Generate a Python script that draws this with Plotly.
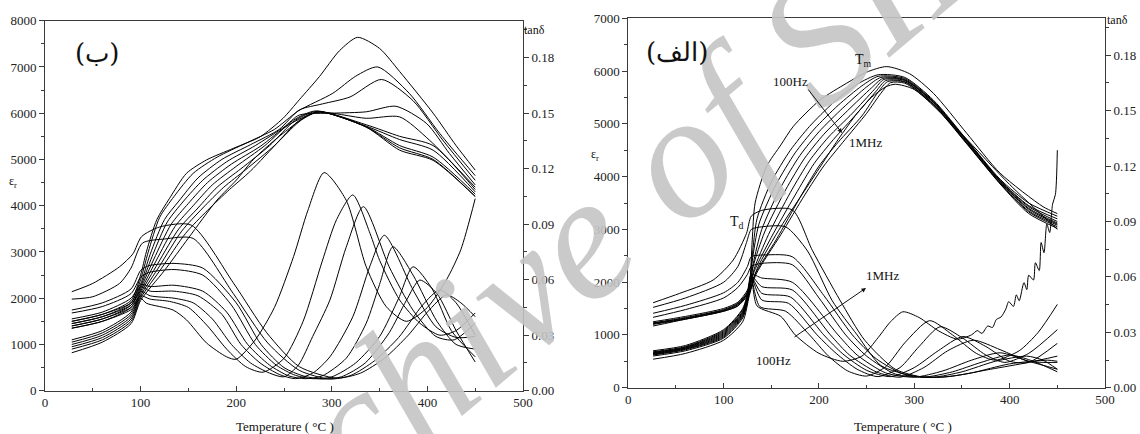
import plotly.graph_objects as go

# ---------------- LEFT PANEL  (ب) ----------------
# dielectric constant curves (εr), temperature in °C
L_EPS_T = [
    [28, 60, 90, 100, 106, 117, 130, 148, 169, 197, 225, 249, 266, 287, 308, 327, 350, 371, 406, 430, 450],
    [28, 60, 90, 100, 108, 120, 135, 155, 180, 210, 240, 265, 301, 325, 348, 381, 413, 450],
    [28, 60, 90, 100, 110, 125, 140, 160, 185, 215, 245, 266, 290, 319, 352, 385, 416, 450],
    [28, 60, 90, 100, 112, 128, 145, 165, 190, 220, 250, 266, 301, 336, 367, 399, 423, 450],
    [28, 60, 90, 100, 114, 132, 150, 170, 195, 225, 255, 285, 336, 371, 402, 450],
    [28, 60, 90, 100, 116, 136, 155, 175, 200, 230, 260, 283, 336, 371, 406, 450],
    [28, 60, 90, 100, 118, 140, 160, 180, 205, 235, 262, 285, 336, 371, 406, 450],
    [28, 60, 90, 100, 120, 143, 165, 187, 210, 240, 265, 286, 336, 371, 406, 450],
    [28, 60, 90, 100, 122, 147, 170, 193, 215, 245, 268, 287, 336, 371, 406, 450],
    [28, 60, 90, 100, 125, 150, 180, 200, 218, 245, 275, 288, 336, 371, 406, 450],
]
L_EPS_V = [
    [1500, 1650, 1950, 2500, 3000, 3700, 4150, 4700, 4990, 5240, 5490, 5890, 6290, 6790, 7350, 7640, 7400, 6900, 6000, 5300, 4770],
    [1450, 1600, 1900, 2400, 3000, 3750, 4200, 4700, 5050, 5350, 5650, 6050, 6430, 6800, 7000, 6430, 5560, 4650],
    [1400, 1550, 1850, 2300, 2950, 3700, 4100, 4600, 5000, 5320, 5650, 6070, 6200, 6350, 6730, 6270, 5420, 4550],
    [1350, 1500, 1800, 2250, 2900, 3650, 4100, 4550, 4950, 5300, 5700, 5960, 6000, 6030, 6150, 5780, 5130, 4450],
    [1100, 1300, 1700, 2200, 2850, 3600, 4050, 4500, 4900, 5280, 5750, 6020, 5890, 5920, 5420, 4400],
    [1050, 1250, 1650, 2150, 2800, 3550, 4000, 4450, 4850, 5300, 5850, 6050, 5750, 5500, 5300, 4350],
    [1000, 1200, 1600, 2100, 2750, 3500, 3950, 4400, 4800, 5300, 5850, 6040, 5720, 5430, 5200, 4300],
    [950, 1150, 1550, 2050, 2700, 3450, 3950, 4400, 4780, 5300, 5830, 6030, 5710, 5300, 5050, 4250],
    [900, 1100, 1500, 2000, 2650, 3400, 3900, 4350, 4750, 5400, 5850, 6030, 5700, 5250, 5000, 4200],
    [820, 1050, 1450, 1950, 2600, 3300, 4123, 4550, 5000, 5500, 5950, 6030, 5700, 5200, 4980, 4200],
]
# loss tangent curves, values are tanδ × 10^-3
L_TAN_T = [
    [28, 60, 90, 100, 106, 134, 148, 169, 190, 200, 220, 240, 260, 275, 292, 315, 336, 357, 378, 400, 420, 435, 450],
    [28, 60, 90, 100, 110, 130, 150, 170, 190, 210, 228, 250, 270, 290, 305, 322, 340, 350, 371, 392, 413, 430, 450],
    [28, 60, 90, 100, 110, 135, 155, 175, 195, 215, 235, 250, 265, 280, 298, 315, 333, 360, 385, 409, 428, 450],
    [28, 60, 90, 100, 110, 135, 160, 185, 205, 225, 245, 262, 280, 298, 322, 340, 355, 385, 409, 430, 450],
    [28, 60, 90, 100, 110, 135, 165, 190, 212, 235, 255, 272, 290, 315, 336, 350, 364, 385, 410, 430, 450],
    [28, 60, 90, 100, 108, 135, 165, 195, 220, 242, 262, 280, 300, 325, 350, 370, 385, 405, 425, 450],
    [28, 60, 90, 100, 108, 135, 165, 200, 226, 250, 270, 290, 310, 335, 360, 378, 392, 410, 430, 450],
    [28, 50, 78, 90, 102, 125, 155, 197, 233, 266, 298, 320, 345, 370, 395, 413, 430, 450],
    [28, 50, 78, 92, 101, 120, 153, 197, 232, 266, 305, 330, 355, 380, 400, 420, 435, 450],
]
L_TAN_V = [
    [33.8, 37.5, 43.8, 50.0, 47.3, 43.6, 38.3, 25.8, 18.3, 17.0, 27.5, 45.0, 72.5, 97.5, 117.9, 103.0, 67.0, 45.4, 37.5, 45.0, 60.0, 76.3, 103.8],
    [35.0, 38.8, 45.0, 51.3, 49.5, 48.3, 45.0, 35.0, 22.5, 13.0, 10.0, 17.5, 37.5, 70.0, 92.5, 105.8, 85.0, 70.5, 49.0, 36.5, 30.0, 32.5, 42.0],
    [36.3, 40.0, 46.3, 53.8, 51.3, 50.0, 47.5, 38.8, 25.0, 15.0, 9.5, 7.5, 13.8, 29.3, 49.0, 77.5, 99.5, 67.0, 43.5, 29.3, 27.5, 36.5],
    [37.5, 41.3, 47.5, 56.3, 53.8, 53.8, 51.3, 41.3, 25.0, 15.0, 8.8, 6.5, 9.5, 18.3, 40.0, 67.5, 84.0, 54.5, 34.5, 28.8, 29.3],
    [38.8, 42.5, 50.0, 57.5, 56.3, 57.0, 53.8, 42.5, 25.0, 13.8, 8.0, 6.5, 8.0, 17.5, 36.5, 57.5, 77.8, 62.5, 37.5, 25.0, 22.5],
    [42.0, 45.5, 52.5, 61.3, 63.8, 65.5, 62.5, 46.3, 25.0, 13.8, 8.3, 6.5, 7.5, 15.0, 29.3, 50.0, 67.0, 55.0, 32.5, 18.3],
    [43.6, 47.5, 55.0, 65.0, 67.5, 68.8, 66.3, 47.5, 25.0, 12.5, 8.0, 6.3, 7.5, 15.0, 31.3, 48.8, 59.8, 52.5, 32.5, 15.5],
    [49.5, 50.8, 58.0, 66.3, 79.8, 82.0, 82.3, 52.5, 25.8, 11.0, 6.3, 8.3, 16.3, 28.8, 46.3, 54.5, 47.5, 30.0],
    [53.5, 58.0, 67.0, 74.0, 83.3, 88.5, 89.5, 58.3, 31.3, 13.0, 6.8, 9.5, 17.5, 30.0, 42.5, 51.8, 47.5, 40.0],
]

# ---------------- RIGHT PANEL  (الف) ----------------
R_EPS_T = [
    [26, 60, 100, 120, 127, 130, 133, 145, 160, 173, 201, 229, 250, 271, 295, 320, 355, 390, 435, 450],
    [26, 60, 100, 120, 127, 130, 135, 150, 170, 190, 215, 240, 262, 290, 320, 355, 390, 420, 450],
    [26, 60, 100, 120, 127, 130, 137, 155, 175, 195, 220, 245, 262, 290, 320, 355, 390, 420, 450],
    [26, 60, 100, 120, 127, 131, 140, 160, 180, 200, 225, 250, 265, 290, 320, 355, 390, 420, 450],
    [26, 60, 100, 120, 127, 131, 143, 165, 185, 205, 230, 255, 267, 290, 320, 355, 390, 420, 450],
    [26, 60, 100, 120, 127, 132, 147, 170, 190, 210, 235, 258, 268, 290, 320, 355, 390, 420, 450],
    [26, 60, 100, 120, 127, 132, 150, 175, 195, 215, 240, 260, 270, 290, 320, 355, 390, 420, 450],
    [26, 60, 100, 120, 127, 133, 155, 180, 200, 220, 245, 262, 272, 290, 320, 355, 390, 420, 450],
    [26, 60, 100, 120, 127, 134, 160, 185, 205, 225, 250, 265, 275, 290, 320, 355, 390, 420, 450],
    [26, 60, 100, 120, 127, 135, 160, 180, 200, 220, 240, 255, 270, 280, 300, 350, 400, 450],
]
R_EPS_V = [
    [700, 800, 1100, 1500, 1950, 2800, 3500, 4190, 4600, 4950, 5450, 5770, 5980, 6085, 5950, 5580, 4820, 4065, 3430, 3300],
    [680, 780, 1080, 1480, 1950, 2500, 3200, 3900, 4500, 4950, 5400, 5750, 5930, 5880, 5450, 4700, 3950, 3500, 3250],
    [670, 770, 1060, 1450, 1900, 2400, 3100, 3850, 4450, 4900, 5350, 5720, 5900, 5860, 5430, 4690, 3930, 3450, 3200],
    [660, 760, 1040, 1430, 1880, 2350, 3000, 3800, 4400, 4850, 5300, 5700, 5880, 5840, 5420, 4680, 3920, 3430, 3150],
    [650, 750, 1020, 1410, 1860, 2300, 2950, 3750, 4350, 4800, 5250, 5680, 5860, 5830, 5410, 4670, 3910, 3400, 3120],
    [640, 740, 1000, 1390, 1850, 2250, 2900, 3700, 4300, 4750, 5200, 5650, 5840, 5820, 5400, 4650, 3900, 3380, 3100],
    [630, 730, 980, 1370, 1830, 2200, 2850, 3650, 4250, 4700, 5200, 5620, 5820, 5800, 5380, 4640, 3880, 3350, 3080],
    [620, 720, 960, 1350, 1800, 2150, 2800, 3600, 4200, 4650, 5150, 5600, 5800, 5790, 5370, 4630, 3870, 3330, 3050],
    [600, 700, 940, 1320, 1780, 2150, 2900, 3650, 4200, 4650, 5200, 5580, 5780, 5770, 5360, 4620, 3860, 3300, 3020],
    [540, 650, 900, 1250, 1750, 2250, 3050, 3600, 4150, 4700, 5200, 5500, 5700, 5750, 5650, 4800, 3850, 3000],
]
R_TAN_T = [
    [26, 60, 100, 115, 125, 129, 135, 160, 175, 200, 225, 245, 262, 275, 288, 305, 325, 345, 360, 366, 371, 377,
     382, 386, 391, 396, 399, 404, 407, 410, 415, 418, 420, 425, 427, 431, 433, 436, 439, 442, 445, 448, 450],
    [26, 60, 100, 115, 125, 129, 138, 165, 190, 210, 230, 250, 270, 290, 316, 340, 365, 385, 410, 430, 450],
    [26, 60, 100, 115, 125, 129, 140, 168, 198, 218, 240, 262, 285, 305, 327, 350, 375, 395, 420, 450],
    [26, 60, 100, 115, 125, 129, 140, 170, 205, 225, 250, 275, 300, 325, 351, 375, 400, 420, 450],
    [26, 60, 100, 115, 125, 129, 140, 172, 212, 232, 260, 285, 310, 335, 362, 390, 420, 450],
    [26, 60, 100, 115, 125, 129, 140, 172, 220, 240, 270, 300, 330, 360, 390, 420, 450],
    [26, 60, 100, 115, 125, 129, 140, 172, 200, 228, 250, 280, 310, 340, 370, 400, 425, 450],
    [26, 60, 100, 115, 125, 129, 145, 172, 205, 235, 260, 290, 320, 350, 385, 418, 435, 450],
    [26, 60, 100, 115, 124, 129, 140, 165, 188, 214, 240, 265, 300, 330, 360, 400, 440, 450],
    [26, 54, 89, 110, 124, 129, 140, 172, 193, 222, 248, 280, 310, 340, 380, 420, 450],
]
R_TAN_V = [
    [33.4, 37.1, 41.4, 44.3, 51.4, 60.0, 44.3, 38.6, 28.6, 18.6, 14.3, 17.1, 27.1, 35.7, 41.1, 38.0, 30.9, 26.3, 28.6, 30.9, 29.4, 33.4,
     32.6, 36.9, 38.3, 42.6, 46.6, 44.0, 50.3, 47.1, 56.9, 53.1, 60.9, 58.3, 67.7, 63.4, 78.6, 73.1, 88.6, 84.0, 99.4, 104.6, 128.6],
    [34.3, 37.1, 41.4, 44.3, 50.0, 58.6, 43.9, 41.4, 28.6, 17.1, 9.1, 6.3, 11.4, 24.3, 36.3, 28.6, 18.6, 14.9, 20.0, 30.0, 45.1],
    [34.6, 37.4, 41.7, 44.9, 50.9, 59.4, 47.5, 45.7, 28.6, 18.6, 10.0, 6.0, 10.9, 22.3, 33.0, 27.1, 17.7, 13.7, 18.6, 31.4],
    [34.9, 37.7, 42.0, 45.4, 51.4, 60.0, 51.1, 49.1, 28.6, 18.3, 9.4, 6.0, 10.9, 20.0, 27.7, 22.3, 14.3, 13.7, 24.0],
    [35.1, 38.0, 42.3, 45.7, 52.0, 60.6, 54.7, 52.9, 28.6, 17.7, 8.6, 5.7, 10.9, 20.0, 25.7, 20.6, 14.3, 13.7],
    [35.7, 38.6, 42.9, 46.3, 52.9, 61.4, 59.4, 57.1, 28.6, 17.7, 8.0, 5.7, 9.1, 14.9, 18.9, 14.3, 10.0],
    [38.1, 42.3, 48.6, 54.3, 61.4, 65.7, 67.3, 66.6, 48.6, 28.6, 17.1, 7.4, 5.7, 8.6, 13.7, 17.7, 14.3, 8.6],
    [40.3, 44.6, 51.4, 57.1, 65.7, 70.9, 71.9, 70.9, 50.0, 28.6, 15.7, 7.1, 5.7, 8.6, 14.3, 17.1, 14.9, 10.0],
    [43.5, 48.6, 57.1, 65.7, 78.6, 85.7, 87.1, 87.1, 74.0, 47.0, 28.6, 12.0, 6.3, 5.7, 8.0, 12.9, 14.9, 14.3],
    [46.0, 51.1, 58.3, 69.1, 83.6, 92.9, 96.0, 96.3, 74.4, 47.4, 25.7, 10.0, 5.7, 6.3, 10.0, 13.7, 17.1],
]
TAN_SCALE = 1e-3

X_TICKS = [0, 100, 200, 300, 400, 500]
TAN_TICKS = [0.00, 0.03, 0.06, 0.09, 0.12, 0.15, 0.18]

SERIF = "Liberation Serif"
AX_COL = "#3a3a3a"

fig = go.Figure()


def add_curve(xs, ys, xa, ya):
    fig.add_trace(go.Scatter(
        x=xs, y=ys, mode="lines", xaxis=xa, yaxis=ya,
        line=dict(color="black", width=1, shape="spline", smoothing=0.7),
        hoverinfo="skip", showlegend=False))


for t, v in zip(L_EPS_T, L_EPS_V):
    add_curve(t, v, "x", "y")
for t, v in zip(L_TAN_T, L_TAN_V):
    add_curve(t, [a * TAN_SCALE for a in v], "x", "y2")
for t, v in zip(R_EPS_T, R_EPS_V):
    add_curve(t, v, "x2", "y3")
for t, v in zip(R_TAN_T, R_TAN_V):
    add_curve(t, [a * TAN_SCALE for a in v], "x2", "y4")

W, H = 1140, 434


def px(x):
    return x / W


def py(y):
    return 1 - y / H


tickfont = dict(family=SERIF, size=13, color="#222")


def xaxis(domain, anchor):
    return dict(domain=domain, anchor=anchor, range=[0, 500], tickvals=X_TICKS,
                ticks="inside", ticklen=5, tickcolor=AX_COL,
                minor=dict(ticks="inside", ticklen=3, dtick=50, tick0=0, tickcolor=AX_COL),
                showline=True, linecolor=AX_COL, linewidth=1, mirror=True,
                showgrid=False, zeroline=False, tickfont=tickfont, automargin=False)


def yaxis(domain, anchor, top):
    return dict(domain=domain, anchor=anchor, range=[0, top], dtick=1000, tick0=0,
                ticks="outside", ticklen=5, tickcolor=AX_COL,
                minor=dict(ticks="outside", ticklen=3, dtick=500, tick0=0, tickcolor=AX_COL),
                showline=True, linecolor=AX_COL, linewidth=1,
                showgrid=False, zeroline=False, tickfont=tickfont, automargin=False)


def tanaxis(over, anchor):
    return dict(overlaying=over, anchor=anchor, side="right", range=[0, 0.2],
                tickvals=TAN_TICKS, tickformat=".2f",
                ticks="outside", ticklen=5, tickcolor=AX_COL,
                minor=dict(ticks="outside", ticklen=3, dtick=0.015, tick0=0, tickcolor=AX_COL),
                showline=True, linecolor=AX_COL, linewidth=1,
                showgrid=False, zeroline=False, tickfont=tickfont, automargin=False)


fig.update_layout(
    width=W, height=H, margin=dict(l=0, r=0, t=0, b=0),
    paper_bgcolor="white", plot_bgcolor="white", showlegend=False,
    font=dict(family=SERIF),
    xaxis=xaxis([px(45), px(523)], "y"),
    yaxis=yaxis([py(390.7), py(20.7)], "x", 8000),
    yaxis2=tanaxis("y", "x"),
    xaxis2=xaxis([px(628.3), px(1105)], "y3"),
    yaxis3=yaxis([py(387.7), py(18.3)], "x2", 7000),
    yaxis4=tanaxis("y3", "x2"),
)

anns = []


def txt(x, y, s, size=13, family=SERIF, xanchor="center", yanchor="middle"):
    anns.append(dict(x=px(x), y=py(y), xref="paper", yref="paper", text=s, showarrow=False,
                     xanchor=xanchor, yanchor=yanchor,
                     font=dict(family=family, size=size, color="#111")))


def arrow(x0, y0, x1, y1):
    anns.append(dict(x=px(x1), y=py(y1), xref="paper", yref="paper", ax=x0 - x1, ay=y0 - y1,
                     axref="pixel", ayref="pixel", text="", showarrow=True,
                     arrowhead=2, arrowsize=0.9, arrowwidth=1, arrowcolor="#111"))


# watermark (drawn first so labels stay readable)
anns.append(dict(x=px(588), y=py(232), xref="paper", yref="paper", text="Archive of SID",
                 showarrow=False, textangle=-40, xanchor="center", yanchor="middle",
                 font=dict(family=SERIF, size=178, color="rgba(196,196,196,0.9)", style="italic")))

txt(97, 53, "(ب)", size=26, family="DejaVu Serif")
txt(677, 52, "(الف)", size=26, family="DejaVu Serif")
txt(522, 30, "tanδ", size=12, xanchor="left")
txt(1105, 20, "tanδ", size=12, xanchor="left")
txt(13, 182, "ε<sub>r</sub>", size=12)
txt(595, 155, "ε<sub>r</sub>", size=12)
txt(285, 426, "Temperature ( °C )", size=13)
txt(903, 426, "Temperature ( °C )", size=13)
txt(863, 60, "T<sub>m</sub>", size=14)
txt(790, 82, "100Hz", size=13)
txt(865, 143, "1MHz", size=13)
txt(737, 222, "T<sub>d</sub>", size=14)
txt(882, 275, "1MHz", size=13)
txt(773, 360, "100Hz", size=13)
arrow(807, 88, 842, 133)
arrow(793, 338, 866, 288)

fig.update_layout(annotations=anns)
fig.write_html("out.html")
